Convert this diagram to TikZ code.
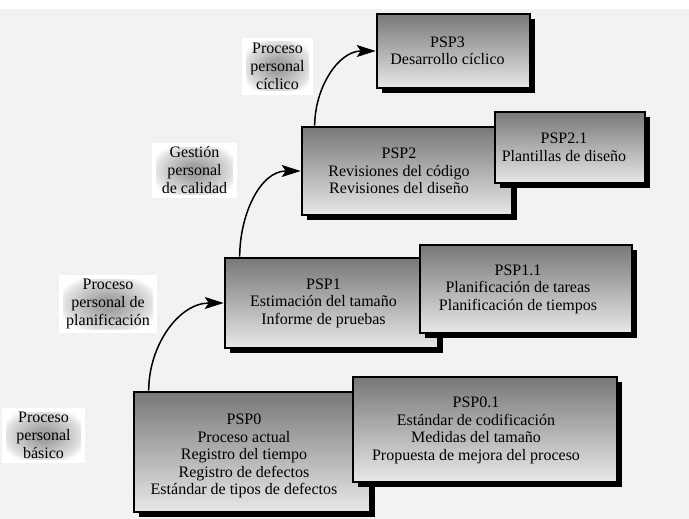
\documentclass[tikz,border=0pt]{standalone}
\usepackage{fontspec}
\setmainfont{Liberation Serif}
\usetikzlibrary{arrows.meta,shadows}
\pgfdeclareradialshading{lblshade}{\pgfpoint{0bp}{0bp}}{color(0bp)=(black!38); color(6bp)=(black!36); color(22bp)=(black!12); color(27bp)=(white); color(50bp)=(white)}
\tikzset{
  pspbox/.style={draw=black, line width=2.6pt, top color=black!53, bottom color=black!9,
    general shadow={fill=black, shadow xshift=5pt, shadow yshift=-5pt}},
  boxtext/.style={align=center, font=\fontsize{16}{17.5}\selectfont, inner sep=0pt},
  lbl/.style={fill=white, draw=none, align=center, inner sep=0pt,
    font=\fontsize{16}{18}\selectfont,
    path picture={\shade[shading=lblshade]
      ([shift={(4pt,-4pt)}]path picture bounding box.north west) rectangle
      ([shift={(-4pt,4pt)}]path picture bounding box.south east);}},
  arr/.style={line width=1.5pt, -{Stealth[length=19pt,width=12pt,inset=4pt]}}
}
\begin{document}
\begin{tikzpicture}[x=1pt,y=-1pt]
\useasboundingbox (0,0) rectangle (689,519);
\fill[white] (0,0) rectangle (689,9);
\fill[black!5] (0,9) rectangle (689,519);

% level 0
\node[pspbox, minimum width=236pt, minimum height=120pt] (p0) at (252,452) {};
\node[boxtext] (t0) at ([xshift=-8pt,yshift=-4pt]p0.center) {PSP0\\Proceso actual\\Registro del tiempo\\Registro de defectos\\Estándar de tipos de defectos};
\node[pspbox, minimum width=264pt, minimum height=105pt] (p01) at (485,429.5) {};
\node[boxtext] (t01) at ([xshift=-9pt,yshift=-1pt]p01.center) {PSP0.1\\Estándar de codificación\\Medidas del tamaño\\Propuesta de mejora del proceso};

% level 1
\node[pspbox, minimum width=213pt, minimum height=90pt] (p1) at (331.5,303) {};
\node[boxtext] (t1) at ([xshift=-8pt]p1.center) {PSP1\\Estimación del tamaño\\Informe de pruebas};
\node[pspbox, minimum width=212pt, minimum height=88pt] (p11) at (526,289) {};
\node[boxtext] (t11) at ([xshift=-8pt]p11.center) {PSP1.1\\Planificación de tareas\\Planificación de tiempos};

% level 2
\node[pspbox, minimum width=210pt, minimum height=88pt] (p2) at (407,171) {};
\node[boxtext] (t2) at ([xshift=-8pt]p2.center) {PSP2\\Revisiones del código\\Revisiones del diseño};
\node[pspbox, minimum width=150pt, minimum height=71pt] (p21) at (570,147.5) {};
\node[boxtext] (t21) at ([xshift=-6pt]p21.center) {PSP2.1\\Plantillas de diseño};

% level 3
\node[pspbox, minimum width=153pt, minimum height=74pt] (p3) at (453.5,51) {};
\node[boxtext] (t3) at ([xshift=-6pt]p3.center) {PSP3\\Desarrollo cíclico};

% labels
\node[lbl, minimum width=83pt, minimum height=55pt] (l0) at (43.5,435.5) {Proceso\\personal\\básico};
\node[lbl, minimum width=98pt, minimum height=58pt] (l1) at (108,304) {Proceso\\personal de\\planificación};
\node[lbl, minimum width=85pt, minimum height=55pt] (l2) at (194.5,170.5) {Gestión\\personal\\de calidad};
\node[lbl, minimum width=71pt, minimum height=57pt] (l3) at (277.5,66.5) {Proceso\\personal\\cíclico};

% arrows
\draw[arr] ([xshift=16pt]p0.north west) to[out=90,in=180] (p1.west);
\draw[arr] ([xshift=16pt]p1.north west) to[out=90,in=180] (p2.west);
\draw[arr] ([xshift=14pt]p2.north west) to[out=90,in=180] (p3.west);
\end{tikzpicture}
\end{document}
